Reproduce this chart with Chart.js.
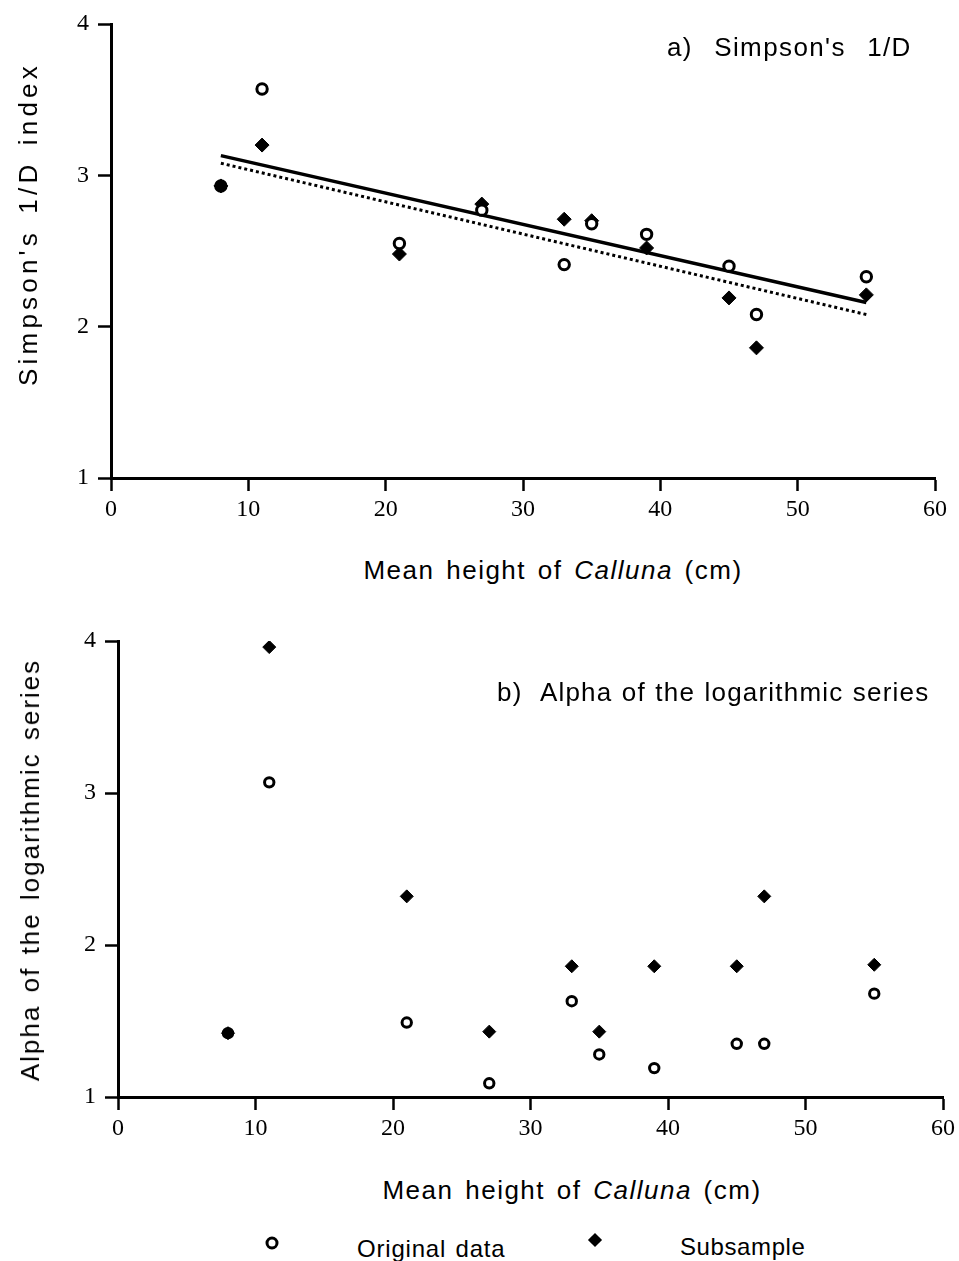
<!DOCTYPE html>
<html>
<head>
<meta charset="utf-8">
<script src="https://cdn.jsdelivr.net/npm/chart.js@4.4.1/dist/chart.umd.min.js"></script>
<style>
  body { margin: 0; background: #fff; }
  #page { position: relative; width: 959px; height: 1261px; overflow: hidden; font-family: 'Liberation Sans', Arial, sans-serif; color: #000; }
  canvas { position: absolute; left: 0; }
  .lbl { position: absolute; white-space: nowrap; font-size: 26px; letter-spacing: 1.5px; word-spacing: 3px; line-height: 1; }
  .ctr { transform: translate(-50%, -50%); }
  .rot { transform: translate(-50%, -50%) rotate(-90deg); }
  .open { position: absolute; width: 7px; height: 7px; border: 3px solid #000; border-radius: 50%; transform: translate(-50%, -50%); }
  .dia { position: absolute; width: 10px; height: 10px; background: #000; transform: translate(-50%, -50%) rotate(45deg); }
</style>
</head>
<body>
<div id="page">
  <canvas id="top" width="959" height="540" style="top:0"></canvas>
  <canvas id="bottom" width="959" height="540" style="top:600px"></canvas>

  <div class="lbl" style="left:667px; top:34px; letter-spacing:1.4px; word-spacing:2px;">a)&nbsp; Simpson's&nbsp; 1/D</div>
  <div class="lbl ctr" style="left:553px; top:570px;">Mean height of <i>Calluna</i> (cm)</div>
  <div class="lbl rot" style="left:28px; top:224px; letter-spacing:4.2px; word-spacing:4px;">Simpson's 1/D index</div>

  <div class="lbl" style="left:497px; top:679px; letter-spacing:1.2px; word-spacing:1px;">b)&nbsp; Alpha of the logarithmic series</div>
  <div class="lbl ctr" style="left:572px; top:1190px;">Mean height of <i>Calluna</i> (cm)</div>
  <div class="lbl rot" style="left:30px; top:870px; letter-spacing:2px;">Alpha of the logarithmic series</div>

  <span class="open" style="left:272px; top:1243px;"></span>
  <div class="lbl" style="left:357px; top:1237px; font-size:24px; letter-spacing:0.8px; word-spacing:2px;">Original data</div>
  <span class="dia" style="left:595px; top:1240px;"></span>
  <div class="lbl" style="left:680px; top:1235px; font-size:24px; letter-spacing:0.6px;">Subsample</div>
</div>

<script>
// mean height of Calluna (cm) at each site
const heights = [8, 11, 21, 27, 33, 35, 39, 45, 47, 55];

// a) Simpson's 1/D
const simpsonOriginal = [2.93, 3.57, 2.55, 2.77, 2.41, 2.68, 2.61, 2.40, 2.08, 2.33];
const simpsonSubsample = [2.93, 3.20, 2.48, 2.81, 2.71, 2.70, 2.52, 2.19, 1.86, 2.21];
const fitX = [8, 55];
const simpsonFitOriginal = [3.13, 2.16];
const simpsonFitSubsample = [3.08, 2.08];

// b) alpha of the logarithmic series
const alphaOriginal = [1.42, 3.07, 1.49, 1.09, 1.63, 1.28, 1.19, 1.35, 1.35, 1.68];
const alphaSubsample = [1.42, 3.96, 2.32, 1.43, 1.86, 1.43, 1.86, 1.86, 2.32, 1.87];

const xTicks = { min: 0, max: 60, step: 10 };
const yTicks = { min: 1, max: 4, step: 1 };

const pts = (xs, ys) => xs.map((x, i) => ({ x: x, y: ys[i] }));

function axes(yWidth, xHeight) {
  const common = {
    border: { display: true, color: '#000', width: 3 },
    grid: { drawOnChartArea: false, drawTicks: true, tickLength: 13, tickWidth: 2.5, tickColor: '#000' },
  };
  return {
    x: {
      type: 'linear', min: xTicks.min, max: xTicks.max,
      ...common,
      ticks: { stepSize: xTicks.step, color: '#000', padding: 4, maxRotation: 0,
               font: { family: "'Liberation Serif', 'Times New Roman', serif", size: 24 } },
      afterFit: s => { s.height = xHeight; }
    },
    y: {
      type: 'linear', min: yTicks.min, max: yTicks.max,
      ...common,
      ticks: { stepSize: yTicks.step, color: '#000', padding: 9,
               font: { family: "'Liberation Serif', 'Times New Roman', serif", size: 24 } },
      afterFit: s => { s.width = yWidth; }
    }
  };
}

// open circle, filled where the subsample value is the same point
function originalSet(orig, sub, r) {
  return {
    type: 'scatter', label: 'Original data', data: pts(heights, orig),
    pointStyle: 'circle', pointRadius: r, borderWidth: 3, borderColor: '#000',
    pointBackgroundColor: ctx => (sub[ctx.dataIndex] === orig[ctx.dataIndex] ? '#000' : '#fff')
  };
}

function subsampleSet(sub, r) {
  return {
    type: 'scatter', label: 'Subsample', data: pts(heights, sub),
    pointStyle: 'rectRot', pointRadius: r, borderWidth: 1, borderColor: '#000', backgroundColor: '#000'
  };
}

const baseOptions = {
  responsive: false,
  animation: false,
  devicePixelRatio: 1,
  plugins: { legend: { display: false }, tooltip: { enabled: false } },
};

new Chart(document.getElementById('top'), {
  type: 'scatter',
  data: {
    datasets: [
      originalSet(simpsonOriginal, simpsonSubsample, 5.2),
      subsampleSet(simpsonSubsample, 7),
      { type: 'line', label: 'Fit original', data: pts(fitX, simpsonFitOriginal),
        borderColor: '#000', borderWidth: 3.5, pointRadius: 0, fill: false },
      { type: 'line', label: 'Fit subsample', data: pts(fitX, simpsonFitSubsample),
        borderColor: '#000', borderWidth: 3, borderDash: [3, 3], pointRadius: 0, fill: false }
    ]
  },
  options: {
    ...baseOptions,
    layout: { padding: { top: 24, right: 24, left: 0, bottom: 0 } },
    scales: axes(111, 62)
  }
});

new Chart(document.getElementById('bottom'), {
  type: 'scatter',
  data: {
    datasets: [
      originalSet(alphaOriginal, alphaSubsample, 4.7),
      subsampleSet(alphaSubsample, 6.5)
    ]
  },
  options: {
    ...baseOptions,
    layout: { padding: { top: 41, right: 14, left: 0, bottom: 0 } },
    scales: axes(118, 43)
  }
});
</script>
</body>
</html>
